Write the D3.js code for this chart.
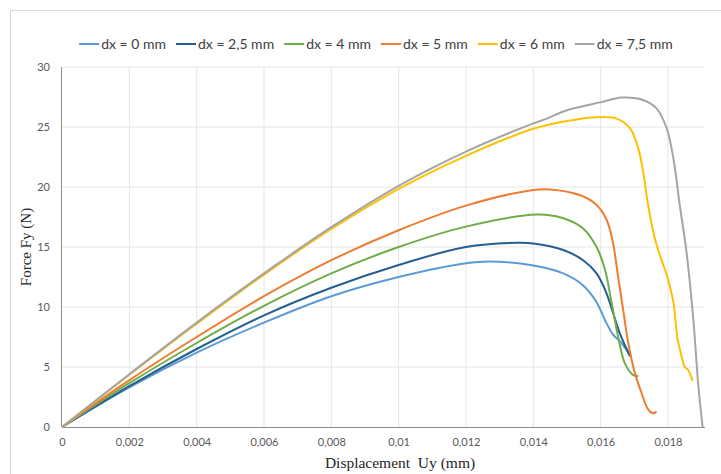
<!DOCTYPE html>
<html>
<head>
<meta charset="utf-8">
<script src="https://cdn.jsdelivr.net/npm/d3@7"></script>
<style>
  body { margin: 0; background: #fff; }
  svg { display: block; }
</style>
</head>
<body>
<svg></svg>
<script>
// Series names and colours (Excel palette)
var seriesNames = ["dx = 0 mm", "dx = 2,5 mm", "dx = 4 mm", "dx = 5 mm", "dx = 6 mm", "dx = 7,5 mm"];
var seriesColors = ["#5B9BD5", "#255E91", "#70AD47", "#ED7D31", "#FFC000", "#A5A5A5"];

// Uy (mm), Fy (N)
var dx0 = [[0,0],[0.002,3.3],[0.004,6.2],[0.006,8.7],[0.008,10.9],[0.01,12.5],[0.012,13.65],[0.0127,13.8],
  [0.014,13.45],[0.01489,12.8],[0.01548,11.8],[0.01588,10.4],[0.01613,8.9],[0.01637,7.7],[0.01657,7.15],
  [0.0169,5.9]];
var dx25 = [[0,0],[0.002,3.4],[0.004,6.5],[0.006,9.3],[0.008,11.6],[0.01,13.5],[0.012,15.0],[0.0135,15.35],
  [0.014,15.3],[0.01489,14.75],[0.01548,13.9],[0.01588,12.8],[0.01618,11.1],[0.01637,9.5],[0.01657,7.8],
  [0.01687,5.9]];
var dx4 = [[0,0],[0.002,3.65],[0.004,7.0],[0.006,10.1],[0.008,12.8],[0.01,15.0],[0.012,16.7],[0.0141,17.7],
  [0.01489,17.4],[0.01548,16.55],[0.01588,15.0],[0.01613,13.1],[0.01633,10.3],[0.01652,7.5],[0.01672,5.3],
  [0.01697,4.33],[0.01712,4.25]];
var dx5 = [[0,0],[0.002,3.9],[0.004,7.5],[0.006,10.9],[0.008,13.9],[0.01,16.4],[0.012,18.45],[0.014,19.75],
  [0.01449,19.8],[0.01538,19.33],[0.01588,18.5],[0.01618,17.25],[0.01637,15.3],[0.01652,12.5],[0.01667,9.75],
  [0.01682,7.0],[0.01702,4.47],[0.01722,2.8],[0.01741,1.47],[0.01756,1.14],[0.01766,1.28]];
var dx6 = [[0,0],[0.002,4.35],[0.004,8.6],[0.006,12.7],[0.008,16.5],[0.01,19.85],[0.012,22.6],[0.014,24.85],
  [0.015,25.5],[0.01578,25.8],[0.01647,25.7],[0.01687,24.9],[0.01712,23.2],[0.01726,21.3],[0.01741,18.5],
  [0.01761,15.7],[0.01776,14.3],[0.01796,12.7],[0.01816,10.4],[0.01828,7.4],[0.01835,6.55],[0.0185,5.0],
  [0.0186,4.75],[0.01873,3.83]];
var dx75 = [[0,0],[0.002,4.4],[0.004,8.7],[0.006,12.8],[0.008,16.65],[0.01,20.1],[0.012,22.95],[0.014,25.3],
  [0.0144,25.7],[0.015,26.4],[0.01598,27.05],[0.01662,27.45],[0.01717,27.33],[0.01766,26.55],[0.01796,24.9],
  [0.01816,22.4],[0.01835,18.5],[0.01855,14.6],[0.01875,9.06],[0.0189,3.5],[0.01903,0]];
var allSeries = [dx0, dx25, dx4, dx5, dx6, dx75];

// Axis ticks
var xTicks = [0,0.002,0.004,0.006,0.008,0.01,0.012,0.014,0.016,0.018];
var yTicks = [0,5,10,15,20,25,30];

var width = 721, height = 474;
var svg = d3.select("svg").attr("width", width).attr("height", height);

// Chart area border
svg.append("rect")
  .attr("x", 10.5).attr("y", 10.5)
  .attr("width", 720).attr("height", 470)
  .attr("fill", "none").attr("stroke", "#d9d9d9");

var plotLeft = 62, plotRight = 705, plotTop = 67, plotBottom = 427;
var x = d3.scaleLinear().domain([0, 0.0191]).range([plotLeft, plotRight]);
var y = d3.scaleLinear().domain([0, 30]).range([plotBottom, plotTop]);

// Gridlines
svg.append("g").selectAll("line")
  .data(yTicks.slice(1))
  .enter().append("line")
  .attr("x1", plotLeft).attr("x2", plotRight)
  .attr("y1", function(d){ return y(d); })
  .attr("y2", function(d){ return y(d); })
  .attr("stroke", "#e6e6e6").attr("stroke-width", 1);
svg.append("g").selectAll("line")
  .data(xTicks.slice(1))
  .enter().append("line")
  .attr("y1", plotTop).attr("y2", plotBottom)
  .attr("x1", function(d){ return x(d); })
  .attr("x2", function(d){ return x(d); })
  .attr("stroke", "#e6e6e6").attr("stroke-width", 1);

// Axes
var fmt = function(d){ return String(d).replace(".", ","); };
var xAxis = svg.append("g")
  .attr("transform", "translate(0," + plotBottom + ")")
  .call(d3.axisBottom(x).tickValues(xTicks).tickFormat(fmt).tickSize(0).tickPadding(11));
xAxis.select(".domain").attr("stroke", "#8c8c8c").attr("d", "M" + plotLeft + ",0.5H" + plotRight);
var yAxis = svg.append("g")
  .attr("transform", "translate(" + plotLeft + ",0)")
  .call(d3.axisLeft(y).tickValues(yTicks).tickSize(0).tickPadding(12));
yAxis.select(".domain").attr("stroke", "#8c8c8c").attr("d", "M-0.5," + plotTop + "V" + plotBottom);
svg.selectAll(".tick text")
  .attr("fill", "#595959")
  .style("font-family", "Lato, 'Open Sans', sans-serif")
  .style("font-size", "11px");

// Curves
var line = d3.line()
  .x(function(d){ return x(d[0]); })
  .y(function(d){ return y(d[1]); })
  .curve(d3.curveCatmullRom.alpha(0.5));

svg.append("g").selectAll("path")
  .data(allSeries)
  .enter().append("path")
  .attr("d", line)
  .attr("fill", "none")
  .attr("stroke", function(d, i){ return seriesColors[i]; })
  .attr("stroke-width", 2)
  .attr("stroke-linejoin", "round");

// Axis titles
svg.append("text")
  .attr("x", 400).attr("y", 468)
  .attr("text-anchor", "middle")
  .style("font-family", "'Liberation Serif', serif")
  .style("font-size", "15.5px")
  .style("white-space", "pre")
  .attr("fill", "#262626")
  .text("Displacement  Uy (mm)");
svg.append("text")
  .attr("transform", "translate(31,247) rotate(-90)")
  .attr("text-anchor", "middle")
  .style("font-family", "'Liberation Serif', serif")
  .style("font-size", "15px")
  .attr("fill", "#262626")
  .text("Force Fy (N)");

// Legend (centred)
var legend = svg.append("g");
var lx = 0;
seriesNames.forEach(function(name, i){
  var g = legend.append("g").attr("transform", "translate(" + lx + ",0)");
  g.append("line")
    .attr("x1", 0).attr("x2", 20).attr("y1", 0).attr("y2", 0)
    .attr("stroke", seriesColors[i]).attr("stroke-width", 2);
  var t = g.append("text")
    .attr("x", 22).attr("y", 5)
    .attr("fill", "#404040")
    .style("font-family", "Lato, 'Open Sans', sans-serif")
    .style("font-size", "14px")
    .text(name);
  lx += 22 + t.node().getComputedTextLength() + 10;
});
lx -= 10;
legend.attr("transform", "translate(" + (376 - lx / 2) + ",44)");
</script>
</body>
</html>
